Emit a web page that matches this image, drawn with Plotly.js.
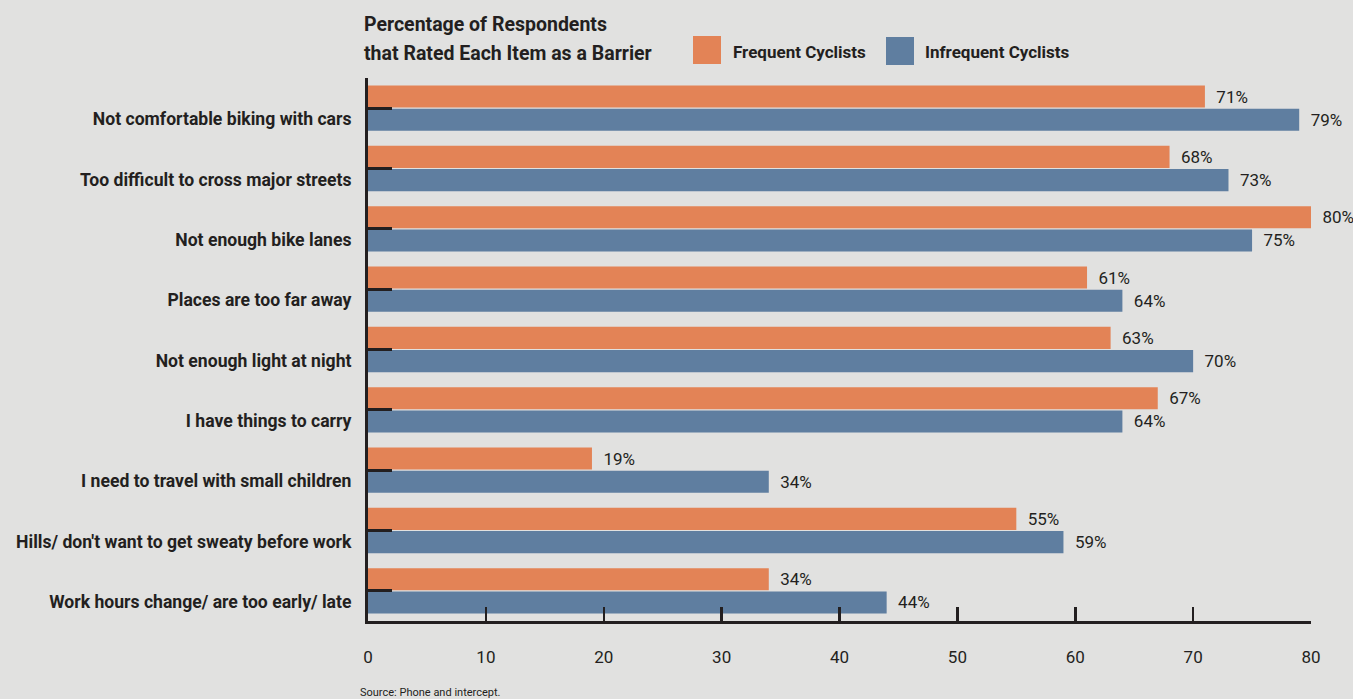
<!DOCTYPE html>
<html>
<head>
<meta charset="utf-8">
<script src="https://cdn.plot.ly/plotly-3.0.1.min.js"></script>
<style>
html,body{margin:0;padding:0;background:#e1e1e0;}
#chart{width:1353px;height:699px;}
</style>
</head>
<body>
<div id="chart"></div>
<script>
const categories = [
  "Not comfortable biking with cars",
  "Too difficult to cross major streets",
  "Not enough bike lanes",
  "Places are too far away",
  "Not enough light at night",
  "I have things to carry",
  "I need to travel with small children",
  "Hills/ don't want to get sweaty before work",
  "Work hours change/ are too early/ late"
];
const frequent = [71, 68, 80, 61, 63, 67, 19, 55, 34];
const infrequent = [79, 73, 75, 64, 70, 64, 34, 59, 44];
const seriesNames = ["Frequent Cyclists", "Infrequent Cyclists"];
const xTicks = [0, 10, 20, 30, 40, 50, 60, 70, 80];
const titleLines = ["Percentage of Respondents", "that Rated Each Item as a Barrier"];

const FONT = "Roboto, 'Liberation Sans', sans-serif";
const INK = "#231f20";
const ORANGE = "#e38356";
const BLUE = "#5f7ea0";

const common = {
  type: "bar", orientation: "h", y: categories,
  texttemplate: "\u00a0\u00a0%{x}%", textposition: "outside", cliponaxis: false,
  textfont: {family: FONT, size: 17, color: INK},
  showlegend: false, hoverinfo: "skip"
};
const traces = [
  Object.assign({}, common, {name: seriesNames[0], x: frequent, marker: {color: ORANGE}}),
  Object.assign({}, common, {name: seriesNames[1], x: infrequent, marker: {color: BLUE}})
];

const layout = {
  width: 1353, height: 699,
  paper_bgcolor: "#e1e1e0", plot_bgcolor: "#e1e1e0",
  margin: {l: 368, r: 42, t: 78, b: 78},
  font: {family: FONT, color: INK},
  barmode: "group", bargap: 0.23, bargroupgap: 0.05,
  xaxis: {
    range: [0, 80], tickvals: xTicks, ticktext: xTicks.map(String),
    ticks: "inside", ticklen: 14, tickwidth: 2.5, tickcolor: INK,
    showline: true, linewidth: 3, linecolor: INK,
    showgrid: false, zeroline: false,
    tickfont: {family: FONT, size: 17, color: INK},
    ticklabelstandoff: 19
  },
  yaxis: {
    autorange: "reversed",
    ticks: "inside", ticklen: 24, tickwidth: 3, tickcolor: INK,
    showline: true, linewidth: 3, linecolor: INK,
    showgrid: false, zeroline: false,
    tickfont: {family: FONT, size: 17.6, color: INK, weight: "bold"},
    ticklabelstandoff: 10,
    ticklabelshift: -11
  },
  shapes: [
    {type: "rect", xref: "paper", yref: "paper",
     x0: (693-368)/943, x1: (721-368)/943, y0: (621-64)/543, y1: (621-36)/543,
     fillcolor: ORANGE, line: {width: 0}},
    {type: "rect", xref: "paper", yref: "paper",
     x0: (886-368)/943, x1: (914-368)/943, y0: (621-65)/543, y1: (621-37)/543,
     fillcolor: BLUE, line: {width: 0}}
  ],
  annotations: [
    {text: titleLines[0], xref: "paper", yref: "paper", x: (362-368)/943, y: (621-24)/543,
     xanchor: "left", yanchor: "middle", showarrow: false,
     font: {family: FONT, size: 19.5, color: INK, weight: "bold"}},
    {text: titleLines[1], xref: "paper", yref: "paper", x: (362-368)/943, y: (621-54)/543,
     xanchor: "left", yanchor: "middle", showarrow: false,
     font: {family: FONT, size: 19.5, color: INK, weight: "bold"}},
    {text: seriesNames[0], xref: "paper", yref: "paper", x: (731-368)/943, y: (621-52)/543,
     xanchor: "left", yanchor: "middle", showarrow: false,
     font: {family: FONT, size: 17, color: INK, weight: "bold"}},
    {text: seriesNames[1], xref: "paper", yref: "paper", x: (923-368)/943, y: (621-52)/543,
     xanchor: "left", yanchor: "middle", showarrow: false,
     font: {family: FONT, size: 17, color: INK, weight: "bold"}},
    {text: "Source: Phone and intercept.", xref: "paper", yref: "paper", x: (358-368)/943, y: (621-692)/543,
     xanchor: "left", yanchor: "middle", showarrow: false,
     font: {family: FONT, size: 11, color: INK}}
  ]
};

Plotly.newPlot("chart", traces, layout, {displayModeBar: false, staticPlot: true});
</script>
</body>
</html>
